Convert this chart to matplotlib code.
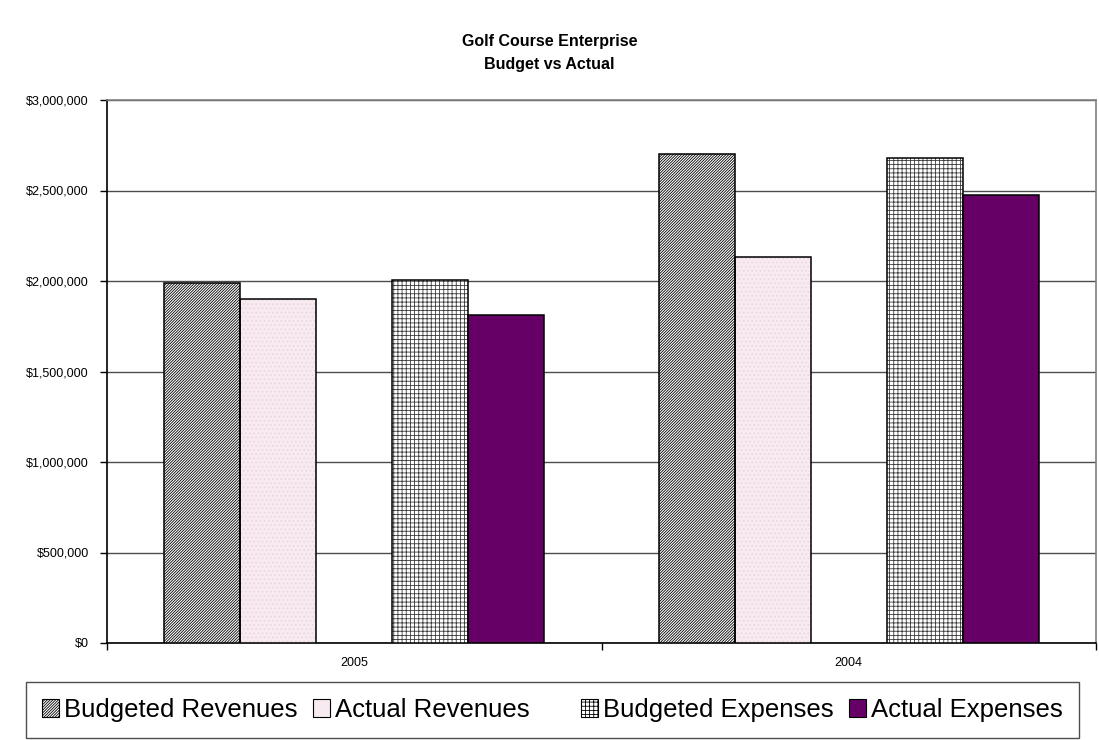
import matplotlib
matplotlib.use("Agg")
import matplotlib.pyplot as plt
import numpy as np
from matplotlib.patches import Patch
from matplotlib.ticker import FuncFormatter, FixedLocator

plt.rcParams['font.family'] = ['Liberation Sans', 'DejaVu Sans']
plt.rcParams['hatch.linewidth'] = 0.6

# Chart data
years = ["2005", "2004"]
series_names = ["Budgeted Revenues", "Actual Revenues", "Budgeted Expenses", "Actual Expenses"]
budgeted_revenues = [1990000, 2700000]
actual_revenues = [1900000, 2135000]
budgeted_expenses = [2005000, 2680000]
actual_expenses = [1810000, 2475000]
y_ticks = [0, 500000, 1000000, 1500000, 2000000, 2500000, 3000000]

fig = plt.figure(figsize=(10.99, 7.40), dpi=100)
ax = fig.add_axes([107 / 1099, 1 - 643 / 740, (1096 - 107) / 1099, (643 - 100) / 740])

x = np.arange(len(years))
w = 1 / 6.5  # five slots per year (one left empty) with 150% gap
slots = [-2, -1, 1, 2]

styles = [
    dict(face="white", hatch="/" * 12, hatch_col="black"),
    dict(face="#F7EAF1", hatch="....", hatch_col="#EBD3DF"),
    dict(face="white", hatch="++++", hatch_col="#3a3a3a"),
    dict(face="#660066", hatch=None, hatch_col=None),
]
values = [budgeted_revenues, actual_revenues, budgeted_expenses, actual_expenses]

for vals, slot, st in zip(values, slots, styles):
    pos = x + slot * w
    if st["hatch"]:
        ax.bar(pos, vals, width=w, color=st["face"], hatch=st["hatch"],
               edgecolor=st["hatch_col"], linewidth=0, zorder=3)
        ax.bar(pos, vals, width=w, fill=False, edgecolor="black", linewidth=1.1, zorder=4)
    else:
        ax.bar(pos, vals, width=w, color=st["face"], edgecolor="black", linewidth=1.1, zorder=3)

ax.set_xlim(-0.5, len(years) - 0.5)
ax.set_ylim(0, 3000000)
ax.yaxis.set_major_locator(FixedLocator(y_ticks))
ax.yaxis.set_major_formatter(FuncFormatter(lambda v, p: "${:,.0f}".format(v)))
ax.grid(axis="y", color="#4d4d4d", linewidth=1.0, zorder=0)
ax.set_axisbelow(True)

# category dividers as major ticks, year labels as minor ticks
ax.xaxis.set_major_locator(FixedLocator(np.arange(-0.5, len(years), 1.0)))
ax.xaxis.set_major_formatter(FuncFormatter(lambda v, p: ""))
ax.set_xticks(x, minor=True)
ax.set_xticklabels(years, minor=True)
ax.tick_params(axis="x", which="major", length=5, width=1, direction="out", color="black")
ax.tick_params(axis="x", which="minor", length=0, pad=10, labelsize=9)
ax.tick_params(axis="y", length=5, width=1, direction="out", labelsize=9, pad=8)

for side in ("top", "right"):
    ax.spines[side].set_color("#808080")
    ax.spines[side].set_linewidth(1.2)
for side in ("left", "bottom"):
    ax.spines[side].set_color("black")
    ax.spines[side].set_linewidth(1.2)

fig.text(0.5, 1 - 53 / 740, "Golf Course Enterprise\nBudget vs Actual", ha="center", va="center",
         fontsize=11.5, fontweight="bold", linespacing=1.6)

handles = [
    Patch(facecolor="white", edgecolor="black", hatch="/" * 12, linewidth=0.8),
    Patch(facecolor="#F7EAF1", edgecolor="black", linewidth=0.8),
    Patch(facecolor="none", edgecolor="none", linewidth=0),
    Patch(facecolor="white", edgecolor="black", hatch="++++", linewidth=0.8),
    Patch(facecolor="#660066", edgecolor="black", linewidth=0.8),
]
labels = [series_names[0], series_names[1], "", series_names[2], series_names[3]]
leg = fig.legend(handles, labels, ncol=5, loc="center", bbox_to_anchor=(552.5 / 1099, 30 / 740),
                 fontsize=18.5, frameon=True, fancybox=False, shadow=False,
                 handlelength=0.66, handleheight=0.7, handletextpad=0.2, columnspacing=0.58,
                 borderpad=0.62)
leg.get_frame().set_edgecolor("#222222")
leg.get_frame().set_linewidth(1.0)

fig.savefig("out.png", dpi=100)
